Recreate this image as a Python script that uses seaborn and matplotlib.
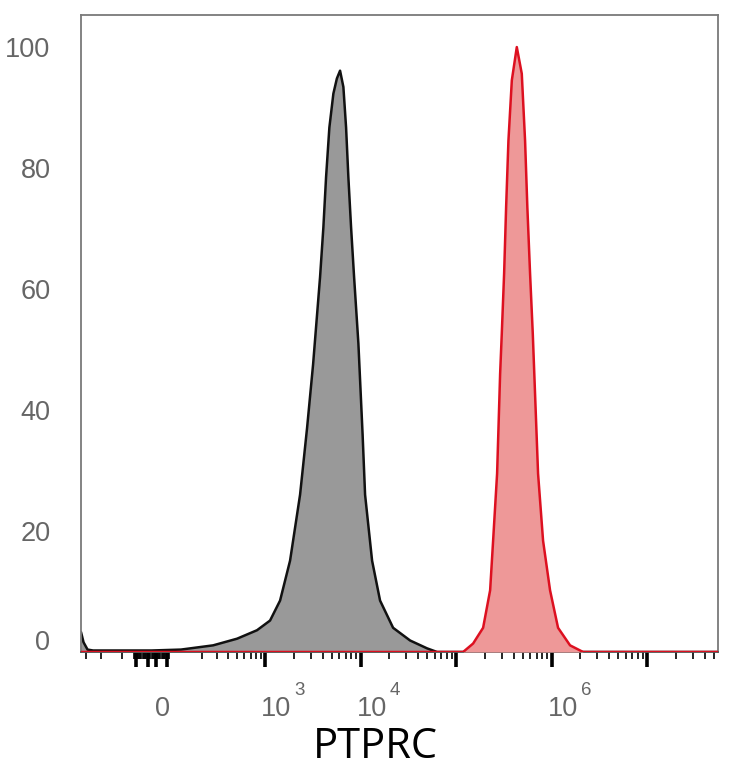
import numpy as np
import pandas as pd
import matplotlib
matplotlib.use("Agg")
import matplotlib.pyplot as plt
import matplotlib.transforms as mtransforms
import seaborn as sns

# ---------------- data ----------------
# control (grey) histogram: fluorescence intensity vs % of max
gray_x = [-344, -322, -290, -250, -150, 0, 100, 139, 272, 502, 820, 1126, 1435,
          1827, 2326, 2753, 3183, 3768, 4081, 4355, 4715, 5193, 5650, 6102,
          6610, 7054, 7453, 7956, 8554, 9490, 10500, 11150, 13200, 16000,
          21900, 33000, 49700, 63200, 5.5e7]
gray_y = [3.3, 1.6, 0.4, 0.25, 0.25, 0.25, 0.4, 0.6, 1.1, 2.2, 3.6, 5.2, 8.5,
          15.1, 26.0, 37.0, 47.5, 62.0, 70.2, 78.5, 86.7, 92.3, 94.8, 96.1,
          93.4, 86.7, 78.5, 70.2, 62.0, 51.0, 36.0, 26.0, 15.1, 8.5,
          4.0, 1.9, 0.6, 0.0, 0.0]

# PTPRC stained (red) histogram
red_x = [-344, 118300, 150600, 191600, 226900, 243800, 268400, 288700, 300400,
         317900, 333500, 352600, 382700, 431400, 486400, 526700, 556400,
         593800, 634200, 720200, 812500, 961400, 1166000, 1557000, 2132000,
         5.5e7]
red_y = [0.0, 0.0, 1.4, 4.0, 10.2, 18.4, 29.5, 46.0, 52.6,
         62.6, 73.5, 84.5, 94.5, 100.0, 95.6, 84.5, 73.5,
         62.6, 52.6, 29.5, 18.4, 10.2, 4.0, 1.1, 0.0,
         0.0]

x_limits = (-344, 5.5e7)
y_limits = (0, 105.3)
y_ticks = [0, 20, 40, 60, 80, 100]
x_major_ticks = [-50, -12, 15, 50, 1e3, 1e4, 1e5, 1e6, 1e7]
x_minor_ticks = ([-300, -200, -100] + list(range(-56, 60, 4)) +
                 [k * 10 ** e for e in range(2, 8) for k in range(2, 10)
                  if k * 10 ** e <= 5e7])
x_label_values = [0, 1e3, 1e4, 1e6]
x_label_bases = ["0", "10", "10", "10"]
x_label_exps = ["", "3", "4", "6"]
x_title = "PTPRC"

# ---------------- style ----------------
sns.set_style("white")
plt.rcParams["font.family"] = ["Liberation Sans", "DejaVu Sans"]

fig = plt.figure(figsize=(7.34, 7.68), dpi=100)
ax = fig.add_axes([81 / 734, 116 / 768, 637 / 734, 637 / 768])
ax.set_xscale("asinh", linear_width=130)

gdf = pd.DataFrame({"x": gray_x, "y": gray_y})
rdf = pd.DataFrame({"x": red_x, "y": red_y})

ax.fill_between(gdf["x"], gdf["y"], color="#999999", lw=0, zorder=1)
sns.lineplot(data=gdf, x="x", y="y", estimator=None, sort=False, ax=ax,
             color="#111111", lw=1.8, zorder=2,
             solid_joinstyle="round", solid_capstyle="round")
ax.fill_between(rdf["x"], rdf["y"], color="#EE9898", lw=0, zorder=3)
sns.lineplot(data=rdf, x="x", y="y", estimator=None, sort=False, ax=ax,
             color="#DD1020", lw=1.8, zorder=4,
             solid_joinstyle="round", solid_capstyle="round")

# y axis
ax.set_yticks(y_ticks)
ax.set_yticklabels([str(v) for v in y_ticks])
ax.tick_params(axis="y", length=0, pad=22, labelsize=19.5, labelcolor="#666666")
zero_lab = ax.get_yticklabels()[0]
zero_lab.set_transform(zero_lab.get_transform() +
                       mtransforms.ScaledTranslation(0, 12 / 100, fig.dpi_scale_trans))

# x axis ticks
ax.set_xticks(x_major_ticks)
ax.set_xticks(x_minor_ticks, minor=True)
ax.set_xticklabels([])
ax.tick_params(axis="x", which="major", direction="out", length=11, width=2.6,
               color="black", bottom=True)
ax.tick_params(axis="x", which="minor", direction="out", length=5, width=1.2,
               color="black", bottom=True)

ax.set_xlim(*x_limits)
ax.set_ylim(*y_limits)

for v, b, e in zip(x_label_values, x_label_bases, x_label_exps):
    ax.annotate(b, xy=(v, 0), xycoords=("data", "axes fraction"),
                xytext=(11, -57.5), textcoords="offset pixels",
                ha="center", va="center", fontsize=19.5, color="#666666")
    if e:
        ax.annotate(e, xy=(v, 0), xycoords=("data", "axes fraction"),
                    xytext=(34.5, -38.5), textcoords="offset pixels",
                    ha="center", va="center", fontsize=13.5, color="#666666")

ax.set_xlabel(x_title, fontsize=30, color="black", family=["Open Sans", "DejaVu Sans"])
ax.xaxis.label.set_va("center")
ax.xaxis.set_label_coords(0.463, -0.1487)
ax.set_ylabel("")

for s in ["left", "top", "right"]:
    ax.spines[s].set_color("#7a7a7a")
    ax.spines[s].set_linewidth(1.3)
ax.spines["bottom"].set_color("#555555")
ax.spines["bottom"].set_linewidth(1.3)

fig.savefig("out.png", dpi=100)
